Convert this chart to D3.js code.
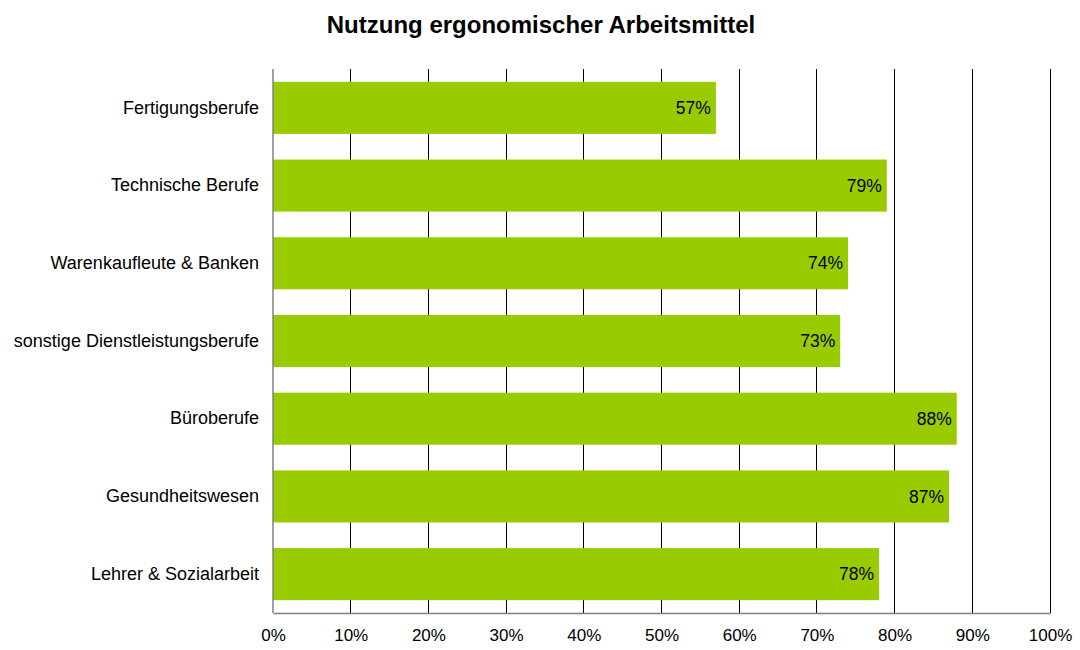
<!DOCTYPE html>
<html>
<head>
<meta charset="utf-8">
<script src="https://cdn.jsdelivr.net/npm/d3@7"></script>
<style>
  body { margin: 0; background: #fff; }
  svg { display: block; font-family: "Liberation Sans", Arial, sans-serif; }
</style>
</head>
<body>
<svg id="chart" width="1080" height="650"></svg>
<script>
// Occupational groups and share using ergonomic equipment
const categories = [
  "Fertigungsberufe",
  "Technische Berufe",
  "Warenkaufleute & Banken",
  "sonstige Dienstleistungsberufe",
  "Büroberufe",
  "Gesundheitswesen",
  "Lehrer & Sozialarbeit"
];
const values = [0.57, 0.79, 0.74, 0.73, 0.88, 0.87, 0.78];
const tickValues = [0, 0.1, 0.2, 0.3, 0.4, 0.5, 0.6, 0.7, 0.8, 0.9, 1.0];
const title = "Nutzung ergonomischer Arbeitsmittel";

const svg = d3.select("#chart");
const margin = { left: 273, right: 30, top: 69, bottom: 37 };
const W = 1080, H = 650;

const x = d3.scaleLinear().domain([0, 1]).range([margin.left, W - margin.right]);
const y = d3.scaleBand().domain(categories)
  .range([margin.top, H - margin.bottom])
  .paddingInner(0.33).paddingOuter(0.165);

const pct = d3.format(".0%");

// Title
svg.append("text")
  .attr("x", 541).attr("y", 33)
  .attr("text-anchor", "middle")
  .attr("font-size", 24).attr("font-weight", "bold")
  .text(title);

// Vertical gridlines
svg.append("g").selectAll("line")
  .data(tickValues.slice(1))
  .join("line")
  .attr("x1", d => x(d)).attr("x2", d => x(d))
  .attr("y1", margin.top).attr("y2", H - margin.bottom)
  .attr("stroke", "#000").attr("stroke-width", 1)
  .attr("shape-rendering", "crispEdges");

// Bars
svg.append("g").selectAll("rect")
  .data(values)
  .join("rect")
  .attr("x", x(0))
  .attr("y", (d, i) => y(categories[i]))
  .attr("width", d => x(d) - x(0))
  .attr("height", y.bandwidth())
  .attr("fill", "#99cc00");

// Value labels at the end of each bar
svg.append("g").selectAll("text")
  .data(values)
  .join("text")
  .attr("x", d => x(d) - 5)
  .attr("y", (d, i) => y(categories[i]) + y.bandwidth() / 2)
  .attr("dy", "0.35em")
  .attr("text-anchor", "end")
  .attr("font-size", 17.5)
  .attr("fill", "#000")
  .text(d => pct(d));

// Bottom axis
const xAxis = svg.append("g")
  .attr("transform", `translate(0,${H - margin.bottom})`)
  .call(d3.axisBottom(x).tickValues(tickValues).tickFormat(pct).tickSize(0).tickPadding(16));
xAxis.select(".domain").attr("stroke", "#808080").attr("stroke-width", 1.5);
xAxis.selectAll("text").attr("font-size", 17).attr("fill", "#000")
  .attr("font-family", "Liberation Sans, Arial, sans-serif");

// Left axis
const yAxis = svg.append("g")
  .attr("transform", `translate(${margin.left},0)`)
  .call(d3.axisLeft(y).tickSize(0).tickPadding(14));
yAxis.select(".domain").attr("stroke", "#808080").attr("stroke-width", 1.5)
  .attr("d", `M0,${margin.top}V${H - margin.bottom}`);
yAxis.selectAll("text").attr("font-size", 18).attr("fill", "#000")
  .attr("font-family", "Liberation Sans, Arial, sans-serif");
</script>
</body>
</html>
